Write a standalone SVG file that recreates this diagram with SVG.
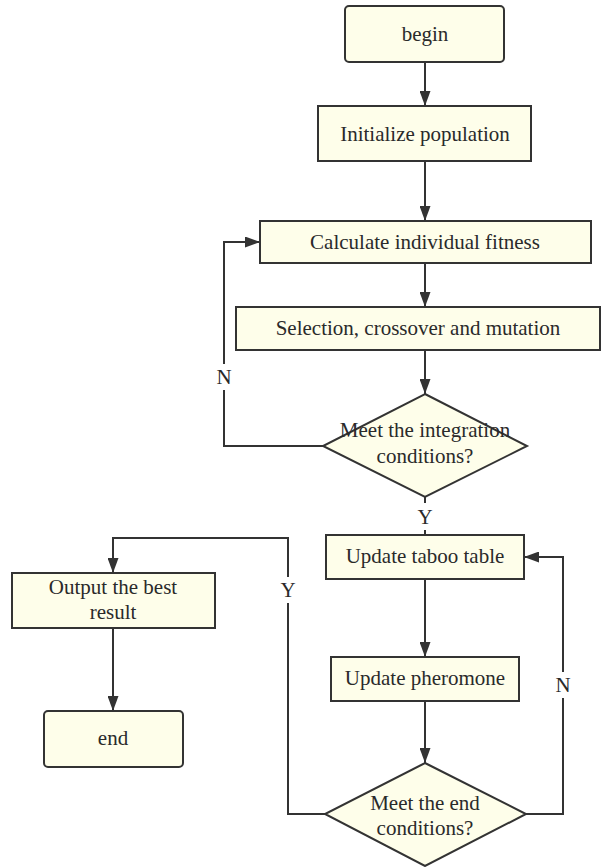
<svg xmlns="http://www.w3.org/2000/svg" width="603" height="867" viewBox="0 0 603 867">
<style>
.box{fill:#fefeea;stroke:#333;stroke-width:2}
.t{font-family:"Liberation Serif","Times New Roman",serif;font-size:21px;fill:#2a2a2a;text-anchor:middle}
.c{fill:none;stroke:#333;stroke-width:2}
.bg{fill:#fff}
</style>
<defs>
<marker id="a" markerWidth="15" markerHeight="11" refX="15" refY="5.5" orient="auto" markerUnits="userSpaceOnUse">
<path d="M0,0 L15,5.5 L0,11 Z" fill="#333"/>
</marker>
</defs>
<g id="connectors">
<line class="c" x1="425" y1="62" x2="425" y2="106" marker-end="url(#a)"/>
<line class="c" x1="425" y1="161" x2="425" y2="221" marker-end="url(#a)"/>
<line class="c" x1="425" y1="263" x2="425" y2="307" marker-end="url(#a)"/>
<line class="c" x1="425" y1="350" x2="425" y2="394" marker-end="url(#a)"/>
<polyline class="c" points="323,446 224,446 224,242 260,242" marker-end="url(#a)"/>
<rect class="bg" x="214" y="364" width="20" height="26"/>
<text class="t" x="224" y="384">N</text>
<line class="c" x1="425" y1="497" x2="425" y2="535" stroke-width="1"/>
<rect class="bg" x="414" y="503" width="22" height="27"/>
<text class="t" x="425" y="524">Y</text>
<line class="c" x1="425" y1="579" x2="425" y2="657" marker-end="url(#a)"/>
<line class="c" x1="425" y1="701" x2="425" y2="763" marker-end="url(#a)"/>
<polyline class="c" points="526,814 563,814 563,557 524,557" marker-end="url(#a)"/>
<rect class="bg" x="553" y="672" width="20" height="26"/>
<text class="t" x="563" y="692">N</text>
<polyline class="c" points="325,814 288,814 288,538 113,538 113,573" marker-end="url(#a)"/>
<rect class="bg" x="278" y="577" width="20" height="26"/>
<text class="t" x="288" y="597">Y</text>
<line class="c" x1="113" y1="628" x2="113" y2="711" marker-end="url(#a)"/>
</g>
<g id="begin">
<rect class="box" x="345" y="6" width="159" height="56" rx="4"/>
<text class="t" x="425" y="41">begin</text>
</g>
<g id="init">
<rect class="box" x="318" y="106" width="213" height="55"/>
<text class="t" x="425" y="141">Initialize population</text>
</g>
<g id="fitness">
<rect class="box" x="260" y="221" width="331" height="42"/>
<text class="t" x="425" y="249">Calculate individual fitness</text>
</g>
<g id="selection">
<rect class="box" x="236" y="307" width="364" height="43"/>
<text class="t" x="418" y="335">Selection, crossover and mutation</text>
</g>
<g id="integration">
<polygon class="box" points="425,394 527,446 425,497 323,446"/>
<text class="t" x="425" y="437">Meet the integration</text>
<text class="t" x="425" y="463">conditions?</text>
</g>
<g id="taboo">
<rect class="box" x="326" y="535" width="198" height="44"/>
<text class="t" x="425" y="563">Update taboo table</text>
</g>
<g id="pheromone">
<rect class="box" x="331" y="657" width="188" height="44"/>
<text class="t" x="425" y="685">Update pheromone</text>
</g>
<g id="endcond">
<polygon class="box" points="425,763 526,814 425,866 325,814"/>
<text class="t" x="425" y="810">Meet the end</text>
<text class="t" x="425" y="835">conditions?</text>
</g>
<g id="output">
<rect class="box" x="12" y="573" width="203" height="55"/>
<text class="t" x="113" y="594">Output the best</text>
<text class="t" x="113" y="619">result</text>
</g>
<g id="end">
<rect class="box" x="44" y="711" width="139" height="56" rx="4"/>
<text class="t" x="113" y="745">end</text>
</g>
</svg>
